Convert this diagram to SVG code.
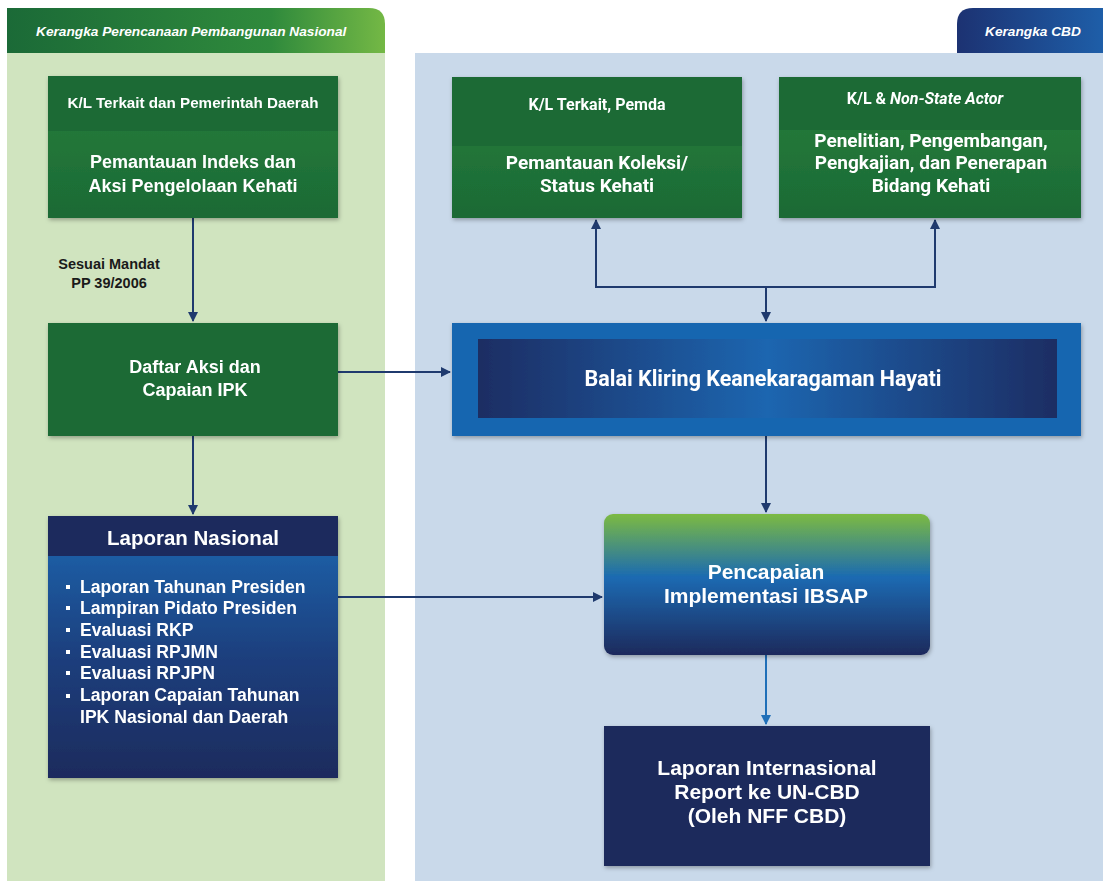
<svg xmlns="http://www.w3.org/2000/svg" width="1103" height="881" viewBox="0 0 1103 881">
<defs>
<style>
.t{fill:#fff;font-family:"Liberation Sans",Arial,sans-serif;font-weight:bold;text-anchor:middle}
.r{fill:#fff;font-family:Roboto,"Liberation Sans",sans-serif;font-weight:bold;text-anchor:middle}
.tab{fill:#fff;font-family:"Liberation Sans",Arial,sans-serif;font-style:italic;font-weight:bold;font-size:13.7px}
.lbl{fill:#1a1a1a;font-family:"Liberation Sans",Arial,sans-serif;font-weight:bold;font-size:14.5px;text-anchor:middle}
.conn{fill:none;stroke:#1f3a6e;stroke-width:2}
.li{fill:#fff;font-family:"Liberation Sans",Arial,sans-serif;font-weight:bold;font-size:17.6px}
</style>
<linearGradient id="gTab" x1="0" y1="0" x2="1" y2="0"><stop offset="0" stop-color="#1b6a37"/><stop offset="0.7" stop-color="#2f8a3c"/><stop offset="1" stop-color="#74b845"/></linearGradient>
<linearGradient id="bTab" x1="0" y1="0" x2="1" y2="0"><stop offset="0" stop-color="#1c3272"/><stop offset="1" stop-color="#1e5ea8"/></linearGradient>
<linearGradient id="gBody" x1="0" y1="0" x2="0" y2="1"><stop offset="0" stop-color="#2a7f3c"/><stop offset="1" stop-color="#1a6a35"/></linearGradient>
<linearGradient id="lnBody" x1="0" y1="0" x2="0" y2="1"><stop offset="0" stop-color="#1f68b2"/><stop offset="0.55" stop-color="#1d3e7c"/><stop offset="1" stop-color="#1c2b5d"/></linearGradient>
<linearGradient id="ibsap" x1="0" y1="0" x2="0" y2="1"><stop offset="0" stop-color="#7cba42"/><stop offset="0.45" stop-color="#1a6ab2"/><stop offset="1" stop-color="#1c2a5c"/></linearGradient>
<linearGradient id="balai" x1="0" y1="0" x2="1" y2="0"><stop offset="0" stop-color="#1c2d63"/><stop offset="0.5" stop-color="#1a66b0"/><stop offset="1" stop-color="#1c2d63"/></linearGradient>
<filter id="sh" x="-5%" y="-5%" width="110%" height="115%"><feDropShadow dx="1" dy="2" stdDeviation="2" flood-color="#000" flood-opacity="0.3"/></filter>
<marker id="ah" viewBox="0 0 10 10" refX="9" refY="5" markerWidth="5" markerHeight="5" orient="auto-start-reverse"><path d="M0,0 L10,5 L0,10 z" fill="#1f3a6e"/></marker>
<marker id="ah2" viewBox="0 0 10 10" refX="9" refY="5" markerWidth="5" markerHeight="5" orient="auto"><path d="M0,0 L10,5 L0,10 z" fill="#1f6fb8"/></marker>
</defs>
<rect width="1103" height="881" fill="#fff"/>
<g id="panel-left">
<rect x="7" y="53" width="378" height="828" fill="#d0e4bf"/>
<path d="M7,8 H369 Q385,8 385,24 V53 H7 Z" fill="url(#gTab)"/>
<text class="tab" x="36" y="36">Kerangka Perencanaan Pembangunan Nasional</text>
</g>
<g id="panel-right">
<rect x="415" y="53" width="688" height="828" fill="#c9d9ea"/>
<path d="M973,8 H1103 V53 H957 V24 Q957,8 973,8 Z" fill="url(#bTab)"/>
<text class="tab" x="985" y="36">Kerangka CBD</text>
</g>
<g id="connectors">
<line class="conn" x1="193" y1="218" x2="193" y2="321" marker-end="url(#ah)"/>
<line class="conn" x1="193" y1="436" x2="193" y2="514" marker-end="url(#ah)"/>
<line class="conn" x1="338" y1="372" x2="450" y2="372" marker-end="url(#ah)"/>
<line class="conn" x1="338" y1="597" x2="602" y2="597" marker-end="url(#ah)"/>
<polyline class="conn" points="596,220 596,287 935,287 935,220" marker-start="url(#ah)" marker-end="url(#ah)"/>
<line class="conn" x1="766" y1="287" x2="766" y2="321" marker-end="url(#ah)"/>
<line class="conn" x1="766" y1="436" x2="766" y2="512" marker-end="url(#ah)"/>
<line x1="766" y1="655" x2="766" y2="724" stroke="#1f6fb8" stroke-width="2" marker-end="url(#ah2)"/>
<text class="lbl" x="109" y="269">Sesuai Mandat</text>
<text class="lbl" x="109" y="288">PP 39/2006</text>
</g>
<g id="node-pemantauan-indeks" filter="url(#sh)">
<rect x="48" y="76" width="290" height="142" fill="url(#gBody)"/>
<rect x="48" y="76" width="290" height="55" fill="#1a6a35"/>
<text class="t" x="193" y="108" font-size="14" textLength="251" lengthAdjust="spacingAndGlyphs">K/L Terkait dan Pemerintah Daerah</text>
<text class="t" x="193" y="168" font-size="18">Pemantauan Indeks dan</text>
<text class="t" x="193" y="192" font-size="18">Aksi Pengelolaan Kehati</text>
</g>
<g id="node-pemantauan-koleksi" filter="url(#sh)">
<rect x="452" y="77" width="290" height="141" fill="url(#gBody)"/>
<rect x="452" y="77" width="290" height="69" fill="#1a6a35"/>
<text class="r" x="597" y="110" font-size="16">K/L Terkait, Pemda</text>
<text class="r" x="597" y="169" font-size="19">Pemantauan Koleksi/</text>
<text class="r" x="597" y="192" font-size="19">Status Kehati</text>
</g>
<g id="node-penelitian" filter="url(#sh)">
<rect x="779" y="77" width="302" height="141" fill="url(#gBody)"/>
<rect x="779" y="77" width="302" height="53" fill="#1a6a35"/>
<text class="r" x="925" y="104" font-size="16">K/L &amp; <tspan font-style="italic">Non-State Actor</tspan></text>
<text class="r" x="931" y="147" font-size="19">Penelitian, Pengembangan,</text>
<text class="r" x="931" y="169" font-size="19">Pengkajian, dan Penerapan</text>
<text class="r" x="931" y="192" font-size="19">Bidang Kehati</text>
</g>
<g id="node-daftar-aksi" filter="url(#sh)">
<rect x="48" y="323" width="290" height="113" fill="#1a6a35"/>
<text class="t" x="195" y="373" font-size="18">Daftar Aksi dan</text>
<text class="t" x="195" y="396" font-size="18">Capaian IPK</text>
</g>
<g id="node-balai" filter="url(#sh)">
<rect x="452" y="323" width="629" height="113" fill="#1766b0"/>
<rect x="478" y="339" width="579" height="79" fill="url(#balai)"/>
<text class="r" x="763" y="386" font-size="21.5">Balai Kliring Keanekaragaman Hayati</text>
</g>
<g id="node-laporan-nasional" filter="url(#sh)">
<rect x="48" y="516" width="290" height="262" fill="url(#lnBody)"/>
<rect x="48" y="516" width="290" height="40" fill="#1c2b5d"/>
<text class="t" x="193" y="545" font-size="20.5">Laporan Nasional</text>
<g fill="#fff"><rect x="66" y="585" width="4" height="4"/><rect x="66" y="606" width="4" height="4"/><rect x="66" y="628" width="4" height="4"/><rect x="66" y="650" width="4" height="4"/><rect x="66" y="671" width="4" height="4"/><rect x="66" y="694" width="4" height="4"/></g>
<text class="li" x="80" y="593">Laporan Tahunan Presiden</text>
<text class="li" x="80" y="614">Lampiran Pidato Presiden</text>
<text class="li" x="80" y="636">Evaluasi RKP</text>
<text class="li" x="80" y="658">Evaluasi RPJMN</text>
<text class="li" x="80" y="679">Evaluasi RPJPN</text>
<text class="li" x="80" y="701">Laporan Capaian Tahunan</text>
<text class="li" x="80" y="723">IPK Nasional dan Daerah</text>
</g>
<g id="node-pencapaian" filter="url(#sh)">
<rect x="604" y="514" width="326" height="141" rx="9" fill="url(#ibsap)"/>
<text class="t" x="766" y="579" font-size="21">Pencapaian</text>
<text class="t" x="766" y="603" font-size="21">Implementasi IBSAP</text>
</g>
<g id="node-laporan-internasional" filter="url(#sh)">
<rect x="604" y="726" width="326" height="140" fill="#1c295b"/>
<text class="t" x="767" y="775" font-size="21">Laporan Internasional</text>
<text class="t" x="767" y="799" font-size="21">Report ke UN-CBD</text>
<text class="t" x="767" y="823" font-size="21">(Oleh NFF CBD)</text>
</g>
</svg>
